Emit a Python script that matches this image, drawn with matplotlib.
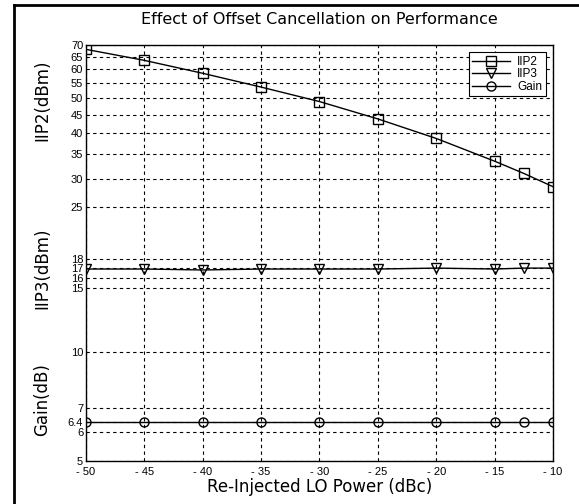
import matplotlib
matplotlib.use("Agg")
import matplotlib.pyplot as plt
from matplotlib.lines import Line2D
from matplotlib.ticker import FixedLocator, FixedFormatter, NullLocator

plt.rcParams['font.family'] = ['Liberation Sans', 'DejaVu Sans']

lo_power = [-50, -45, -40, -35, -30, -25, -20, -15, -12.5, -10]
iip2 = [68.1, 63.5, 58.5, 53.6, 48.9, 43.8, 38.7, 33.5, 31.0, 28.5]
iip3 = [16.9, 16.9, 16.8, 16.9, 16.9, 16.9, 17.0, 16.9, 17.0, 17.0]
gain = [6.4, 6.4, 6.4, 6.4, 6.4, 6.4, 6.4, 6.4, 6.4, 6.4]

yticks = [5, 6, 6.4, 7, 10, 15, 16, 17, 18, 25, 30, 35, 40, 45, 50, 55, 60, 65, 70]
ytick_labels = ['5', '6', '6.4', '7', '10', '15', '16', '17', '18', '25', '30', '35',
                '40', '45', '50', '55', '60', '65', '70']
xticks = [-50, -45, -40, -35, -30, -25, -20, -15, -10]

fig = plt.figure(figsize=(5.79, 5.04), dpi=100)
ax = fig.add_axes([0.1485, 0.0853, 0.8065, 0.8254])

mk = dict(markersize=6.5, markerfacecolor='none', markeredgecolor='black', markeredgewidth=1.0)
ax.plot(lo_power, iip2, color='black', lw=1.0, marker='s', label='IIP2', **mk)
ax.plot(lo_power, iip3, color='black', lw=1.0, marker='v', label='IIP3', **mk)
ax.plot(lo_power, gain, color='black', lw=1.0, marker='o', label='Gain', **mk)

ax.set_yscale('log')
ax.set_ylim(5, 70)
ax.set_xlim(-50, -10)
ax.yaxis.set_major_locator(FixedLocator(yticks))
ax.yaxis.set_major_formatter(FixedFormatter(ytick_labels))
ax.yaxis.set_minor_locator(NullLocator())
ax.set_xticks(xticks)
ax.set_xticklabels([str(x).replace('-', '- ') for x in xticks])
ax.tick_params(axis='both', labelsize=8, length=0)
ax.tick_params(axis='x', pad=4)
ax.tick_params(axis='y', pad=2)

ax.grid(True, which='major', color='black', linestyle=(0, (3, 3)), linewidth=0.8)
for s in ax.spines.values():
    s.set_linewidth(1.0)

big = ['DejaVu Sans']
ax.set_title('Effect of Offset Cancellation on Performance', fontsize=11.5,
             family=big, pad=15)
ax.set_xlabel('Re-Injected LO Power (dBc)', fontsize=12, family=big, labelpad=1)

fig.text(42/579, 1-100/504, 'IIP2(dBm)', rotation=90, fontsize=12, family=big,
         ha='center', va='center')
fig.text(42/579, 1-268/504, 'IIP3(dBm)', rotation=90, fontsize=12, family=big,
         ha='center', va='center')
fig.text(42/579, 1-400/504, 'Gain(dB)', rotation=90, fontsize=12, family=big,
         ha='center', va='center')

leg = ax.legend(loc='upper right', fontsize=8.5, frameon=True, fancybox=False,
                edgecolor='black', framealpha=1, borderaxespad=0.6,
                handlelength=3.2, labelspacing=0.05, borderpad=0.3, handletextpad=0.6)
leg.get_frame().set_linewidth(0.8)

fig.add_artist(Line2D([14/579, 14/579], [0, 1-5/504], transform=fig.transFigure,
                      color='black', lw=2))
fig.add_artist(Line2D([14/579, 1], [1-5/504, 1-5/504], transform=fig.transFigure,
                      color='black', lw=2))

fig.savefig('out.png', dpi=100)
